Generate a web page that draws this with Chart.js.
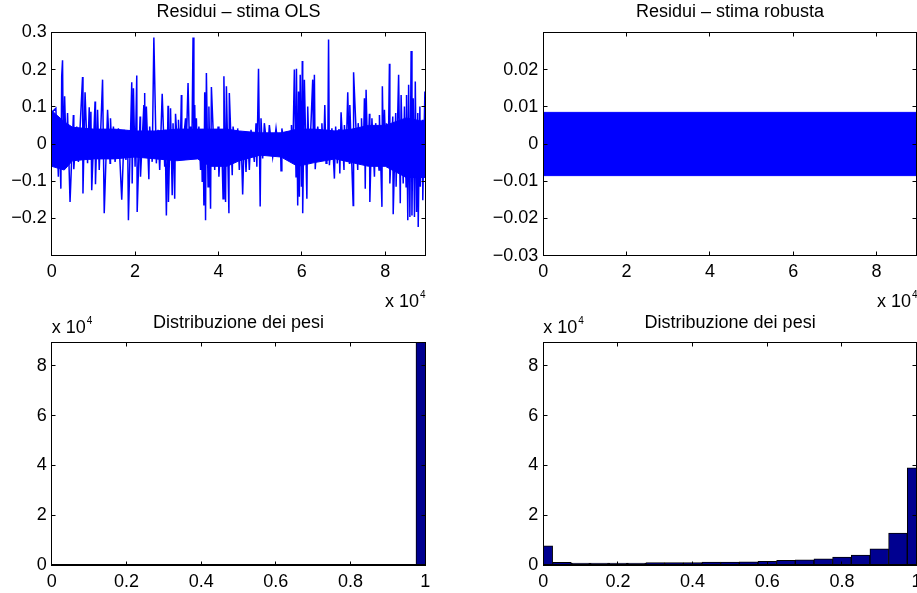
<!DOCTYPE html>
<html lang="it">
<head>
<meta charset="UTF-8">
<title>Residui e distribuzione dei pesi</title>
<script src="https://cdn.jsdelivr.net/npm/chart.js@4.4.1/dist/chart.umd.min.js"></script>
<style>
  html, body { margin: 0; padding: 0; background: #fff; overflow: hidden; }
  #fig { position: relative; width: 917px; height: 593px; overflow: hidden; }
  canvas { position: absolute; }
  .txt {
    position: absolute; white-space: nowrap; color: #000;
    font-family: "Liberation Sans", Arial, Helvetica, sans-serif;
    font-size: 18px; line-height: 18px;
  }
  .title { text-align: center; width: 373.6px; }
  .txt sup { font-size: 10px; position: relative; top: -9px; vertical-align: 0; margin-left: 1px; }
</style>
</head>
<body>
<div id="fig">
  <canvas id="olsChart" width="460" height="300" style="left:0;top:0"></canvas>
  <canvas id="robChart" width="457" height="300" style="left:460px;top:0"></canvas>
  <canvas id="wOlsChart" width="460" height="293" style="left:0;top:300px"></canvas>
  <canvas id="wRobChart" width="457" height="293" style="left:460px;top:300px"></canvas>

  <div class="txt title" style="left:51.7px;top:2px">Residui – stima OLS</div>
  <div class="txt title" style="left:543.3px;top:2px">Residui – stima robusta</div>
  <div class="txt title" style="left:51.7px;top:313px">Distribuzione dei pesi</div>
  <div class="txt title" style="left:543.3px;top:313px">Distribuzione dei pesi</div>

  <div class="txt" style="left:385px;top:292px">x 10<sup>4</sup></div>
  <div class="txt" style="left:877px;top:292px">x 10<sup>4</sup></div>
  <div class="txt" style="left:51.7px;top:318px">x 10<sup>4</sup></div>
  <div class="txt" style="left:543.3px;top:318px">x 10<sup>4</sup></div>
</div>

<script>
// residui OLS (x in unita di 10^4), estremi
const olsX = [
  0.00,0.02,0.10,0.16,0.18,0.22,0.24,0.26,0.28,0.31,
  0.35,0.38,0.44,0.52,0.53,0.60,0.64,0.74,0.75,0.80,
  0.86,0.90,0.92,0.94,0.96,1.04,1.05,1.10,1.14,1.22,
  1.26,1.34,1.40,1.41,1.45,1.48,1.52,1.60,1.68,1.74,
  1.78,1.82,1.84,1.92,1.93,1.96,2.00,2.04,2.05,2.12,
  2.13,2.21,2.22,2.23,2.24,2.27,2.33,2.35,2.41,2.45,
  2.51,2.55,2.59,2.65,2.71,2.72,2.75,2.79,2.80,2.85,
  2.89,2.91,2.95,2.97,3.03,3.04,3.08,3.11,3.12,3.21,
  3.22,3.27,3.31,3.33,3.36,3.39,3.41,3.43,3.45,3.47,
  3.49,3.53,3.57,3.59,3.61,3.63,3.65,3.67,3.69,3.71,
  3.75,3.77,3.81,3.83,3.91,3.92,3.96,3.99,4.01,4.07,
  4.11,4.13,4.17,4.19,4.25,4.26,4.33,4.35,4.43,4.45,
  4.46,4.50,4.54,4.58,4.62,4.66,4.70,4.74,4.78,4.86,
  4.90,4.92,4.96,5.00,5.02,5.06,5.10,5.18,5.22,5.30,
  5.38,5.46,5.48,5.50,5.52,5.62,5.64,5.74,5.75,5.78,
  5.82,5.86,5.87,5.90,5.92,5.94,5.96,5.99,6.01,6.02,
  6.06,6.12,6.14,6.18,6.26,6.28,6.30,6.32,6.38,6.46,
  6.48,6.52,6.55,6.58,6.60,6.62,6.64,6.66,6.72,6.78,
  6.81,6.85,6.89,6.91,6.94,7.01,7.02,7.06,7.10,7.14,
  7.15,7.23,7.24,7.34,7.35,7.42,7.43,7.47,7.50,7.52,
  7.54,7.58,7.62,7.63,7.68,7.74,7.77,7.85,7.86,7.92,
  7.93,7.96,7.98,8.02,8.03,8.07,8.10,8.11,8.18,8.19,
  8.25,8.26,8.32,8.36,8.38,8.43,8.46,8.50,8.51,8.54,
  8.56,8.59,8.62,8.64,8.67,8.70,8.72,8.75,8.78,8.79,
  8.83,8.84,8.89,8.90,8.95,8.96
];
const olsY = [
  -0.061,0.087,0.096,-0.088,0.056,-0.120,0.182,0.225,-0.048,0.128,
  -0.040,0.083,-0.156,0.078,-0.068,0.047,-0.048,0.180,-0.133,0.139,
  -0.052,0.099,-0.040,0.087,-0.124,0.114,-0.108,0.092,-0.070,0.173,
  -0.186,0.092,-0.052,0.069,-0.040,0.047,-0.048,0.042,-0.150,0.038,
  -0.043,0.036,-0.205,0.166,-0.106,0.150,-0.061,0.184,-0.183,0.074,
  -0.088,0.105,-0.034,0.137,-0.030,0.101,-0.095,0.047,-0.048,0.286,
  -0.052,0.038,-0.070,0.135,-0.061,0.038,-0.192,0.103,-0.156,0.096,
  -0.138,0.056,-0.147,0.081,-0.039,0.065,-0.035,0.132,-0.039,0.069,
  -0.039,0.164,-0.034,0.047,-0.030,0.286,-0.025,0.105,-0.030,0.069,
  -0.025,0.047,-0.070,0.040,-0.102,0.040,-0.165,0.139,-0.205,0.191,
  -0.115,0.101,-0.174,0.153,-0.070,0.038,-0.045,0.047,-0.088,0.040,
  -0.147,0.182,-0.156,0.155,-0.186,0.137,-0.084,0.047,-0.039,0.024,
  0.042,-0.070,0.033,-0.136,0.035,-0.075,0.030,-0.070,0.038,-0.048,
  0.056,-0.061,0.202,-0.168,0.069,-0.039,0.056,-0.025,0.051,-0.034,
  0.042,-0.034,0.030,-0.072,0.042,-0.034,0.033,-0.034,0.051,-0.040,
  0.200,-0.088,0.202,-0.165,0.141,-0.142,0.186,-0.115,0.223,-0.186,
  0.173,-0.147,0.101,-0.052,0.173,-0.040,0.186,-0.068,0.047,-0.034,
  0.056,-0.035,0.105,-0.052,0.038,-0.040,0.281,-0.057,0.042,-0.093,
  0.047,-0.052,0.040,-0.079,0.085,-0.070,0.051,-0.040,0.139,-0.052,
  0.105,-0.165,0.193,-0.070,0.056,-0.052,0.069,-0.045,0.123,-0.120,
  0.146,-0.050,0.081,-0.156,0.069,-0.088,0.056,-0.070,0.078,-0.169,
  0.155,-0.050,0.092,-0.052,0.056,-0.050,0.216,-0.106,0.074,-0.189,
  0.083,-0.115,0.186,-0.159,0.132,-0.106,0.101,-0.115,0.132,-0.205,
  0.159,-0.196,0.250,-0.192,0.123,-0.196,0.168,-0.183,0.083,-0.223,
  0.101,-0.115,0.065,-0.151,0.141,-0.070
];
// fascia densa centrale dei residui OLS
const coreX  = [0, 0.3, 0.5, 1.0, 1.5, 2.0, 2.5, 3.0, 3.5, 3.8, 4.2, 4.5, 5.0, 5.5, 5.9, 6.3, 6.8, 7.2, 7.6, 8.0, 8.5, 8.96];
const coreUp = [0.09, 0.06, 0.045, 0.04, 0.04, 0.035, 0.035, 0.04, 0.04, 0.04, 0.04, 0.035, 0.03, 0.03, 0.04, 0.04, 0.035, 0.04, 0.05, 0.05, 0.07, 0.06];
const coreLo = [-0.06, -0.07, -0.045, -0.04, -0.04, -0.035, -0.04, -0.045, -0.04, -0.06, -0.06, -0.045, -0.03, -0.035, -0.06, -0.05, -0.04, -0.05, -0.06, -0.06, -0.09, -0.09];

// residui stima robusta
const robX  = [0, 8.96];
const robUp = [0.0085, 0.0085];
const robLo = [-0.0085, -0.0085];

// istogrammi dei pesi
const binCenters = [0, 0.05, 0.1, 0.15, 0.2, 0.25, 0.3, 0.35, 0.4, 0.45, 0.5, 0.55, 0.6, 0.65, 0.7, 0.75, 0.8, 0.85, 0.9, 0.95, 1];
const wOls = [0, 0, 0, 0, 0, 0, 0, 0, 0, 0, 0, 0, 0, 0, 0, 0, 0, 0, 0, 0, 89500];
const wRob = [7700, 1100, 800, 800, 800, 800, 1000, 1000, 1000, 1200, 1200, 1300, 1500, 1900, 2100, 2500, 3200, 4000, 6500, 12800, 39000];

// tick
const resTicksX = [0, 2, 4, 6, 8];
const olsTicksY = [-0.2, -0.1, 0, 0.1, 0.2, 0.3];
const robTicksY = [-0.03, -0.02, -0.01, 0, 0.01, 0.02];
const histTicksX = [0, 0.2, 0.4, 0.6, 0.8, 1];
const histTicksY = [0, 20000, 40000, 60000, 80000];

Chart.defaults.font.family = '"Liberation Sans", Arial, Helvetica, sans-serif';
Chart.defaults.font.size = 18;
Chart.defaults.color = '#000';

const BLUE = '#0000ff';
const NAVY = '#000090';

const minus = v => String(v).replace('-', '\u2212');
const pts = (xs, ys) => xs.map((x, i) => ({ x: x, y: ys[i] }));

function axis(min, max, ticks, fmt, size, horiz) {
  return {
    type: 'linear',
    min: min,
    max: max,
    offset: false,
    grid: { display: false, drawTicks: false, offset: false },
    border: { display: false },
    ticks: { autoSkip: false, maxRotation: 0, padding: horiz ? 6 : 5, callback: v => fmt(v) },
    afterBuildTicks: s => { s.ticks = ticks.map(v => ({ value: v })); },
    afterFit: s => {
      if (horiz) s.height = size; else s.width = size;
      s.paddingLeft = s.paddingRight = s.paddingTop = s.paddingBottom = 0;
    }
  };
}

// riquadro stile matlab con tacche interne
const boxPlugin = {
  id: 'box',
  afterDatasetsDraw(chart, args, opts) {
    const { ctx, chartArea: a, scales } = chart;
    const L = Math.floor(a.left) + 0.5, R = Math.floor(a.right) + 0.5;
    const T = Math.floor(a.top) + 0.5, B = Math.floor(a.bottom) + 0.5;
    ctx.save();
    ctx.strokeStyle = '#000';
    ctx.lineWidth = 1;
    ctx.beginPath();
    scales.x.ticks.forEach(t => {
      const px = Math.floor(scales.x.getPixelForValue(t.value)) + 0.5;
      ctx.moveTo(px, B); ctx.lineTo(px, B - 4);
      ctx.moveTo(px, T); ctx.lineTo(px, T + 4);
    });
    scales.y.ticks.forEach(t => {
      const py = Math.floor(scales.y.getPixelForValue(t.value)) + 0.5;
      ctx.moveTo(L, py); ctx.lineTo(L + 4, py);
      ctx.moveTo(R, py); ctx.lineTo(R - 4, py);
    });
    ctx.stroke();
    ctx.strokeRect(L, T, R - L, B - T);
    if (opts.thickBase) {
      ctx.lineWidth = 2;
      ctx.beginPath();
      ctx.moveTo(L, B - 0.5); ctx.lineTo(R, B - 0.5);
      ctx.stroke();
    }
    ctx.restore();
  }
};

function baseOptions(pad, xAxis, yAxis, thick) {
  return {
    responsive: false,
    animation: false,
    events: [],
    layout: { autoPadding: false, padding: pad },
    plugins: { legend: { display: false }, tooltip: { enabled: false }, box: { thickBase: thick } },
    scales: { x: xAxis, y: yAxis }
  };
}

// Residui - stima OLS
new Chart(document.getElementById('olsChart'), {
  type: 'line',
  data: {
    datasets: [
      { data: pts(olsX, olsY), borderColor: BLUE, borderWidth: 1.5, pointRadius: 0, fill: false, tension: 0 },
      { data: pts(coreX, coreUp), borderColor: BLUE, borderWidth: 1, pointRadius: 0, fill: false },
      { data: pts(coreX, coreLo), borderColor: BLUE, borderWidth: 1, pointRadius: 0, fill: '-1', backgroundColor: BLUE }
    ]
  },
  options: baseOptions(
    { left: 0, top: 32.4, right: 34.7, bottom: 0 },
    axis(0, 8.96, resTicksX, v => String(v), 44.4, true),
    axis(-0.3, 0.3, olsTicksY, minus, 51.7, false),
    false
  ),
  plugins: [boxPlugin]
});

// Residui - stima robusta
new Chart(document.getElementById('robChart'), {
  type: 'line',
  data: {
    datasets: [
      { data: pts(robX, robUp), borderColor: BLUE, borderWidth: 1, pointRadius: 0, fill: false },
      { data: pts(robX, robLo), borderColor: BLUE, borderWidth: 1, pointRadius: 0, fill: '-1', backgroundColor: BLUE }
    ]
  },
  options: baseOptions(
    { left: 0, top: 32.4, right: 0.4, bottom: 0 },
    axis(0, 8.96, resTicksX, v => String(v), 44.4, true),
    axis(-0.03, 0.03, robTicksY, minus, 83.3, false),
    false
  ),
  plugins: [boxPlugin]
});

// Distribuzione dei pesi
function histChart(id, counts, pad, yW) {
  return new Chart(document.getElementById(id), {
    type: 'bar',
    data: {
      datasets: [{
        data: pts(binCenters, counts),
        backgroundColor: NAVY,
        borderColor: '#000',
        borderWidth: 1,
        borderSkipped: false,
        barPercentage: 1,
        categoryPercentage: 1,
        clip: 0
      }]
    },
    options: baseOptions(
      pad,
      axis(0, 1, histTicksX, v => String(v), 28, true),
      axis(0, 89500, histTicksY, v => String(v / 10000), yW, false),
      true
    ),
    plugins: [boxPlugin]
  });
}

histChart('wOlsChart', wOls, { left: 0, top: 42.1, right: 34.7, bottom: 0 }, 51.7);
histChart('wRobChart', wRob, { left: 0, top: 42.1, right: 0.4, bottom: 0 }, 83.3);
</script>
</body>
</html>
